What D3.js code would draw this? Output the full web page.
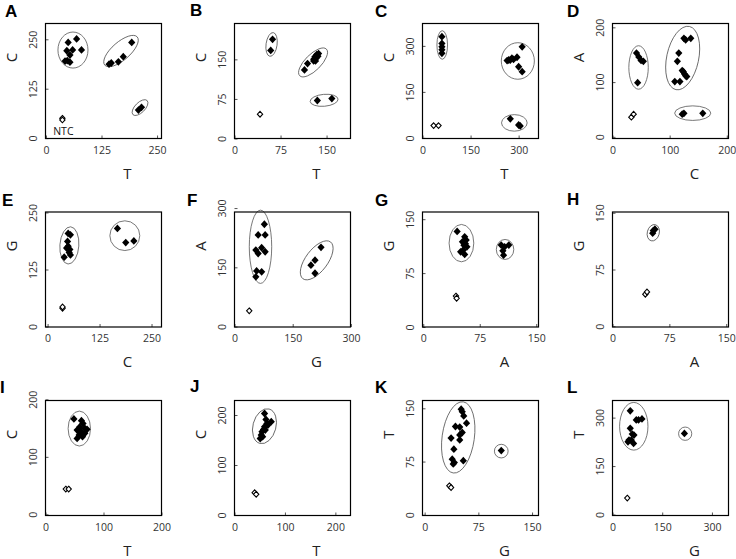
<!DOCTYPE html>
<html><head><meta charset="utf-8">
<script src="https://cdn.jsdelivr.net/npm/d3@7"></script>
<style>body{margin:0;background:#fff}</style>
</head><body><svg id="c" width="736" height="559"></svg>
<script>
// ---------- data ----------
const panelLetters = ["A","B","C","D","E","F","G","H","I","J","K","L"];
const xTitles = ["T","T","T","C","C","G","A","A","T","T","G","G"];
const yTitles = ["C","C","C","A","G","A","G","G","C","C","T","T"];
const xTickValues = [[0,125,250],[0,75,150],[0,150,300],[0,100,200],[0,125,250],[0,150,300],[0,75,150],[0,75,150],[0,100,200],[0,100,200],[0,75,150],[0,150,300]];
const yTickValues = [[0,125,250],[0,75,150],[0,150,300],[0,100,200],[0,125,250],[0,150,300],[0,75,150],[0,75,150],[0,100,200],[0,100,200],[0,75,150],[0,150,300]];
const xDomains = [[-1,260],[0,189],[0,362],[0,203],[-5,274],[0,299],[-1,153],[0,153],[0,200],[0,230],[-3,159],[0,350]];
const yDomains = [[-1,290],[0,218],[-2,373],[-3,207],[-1,251],[-1,290],[0,160],[-1,151],[-2,198],[-1,229],[-1,161],[-3,353]];

const pointsA = [[50,242],[69,251],[47,221],[60,223],[80,223],[54,210],[43,195],[54,192],[48,196],[142,187],[147,190],[163,193],[174,206],[193,242],[208,71],[215,78]];
const pointsB = [[62,188],[59,167],[114,130],[119,142],[129,150],[131,155],[134,159],[137,161],[132,147],[129,147],[133,152],[136,156],[135,72],[158.6,75.6]];
const pointsC = [[60.6,330],[60.6,308],[60.6,297],[60.6,287],[60.6,276],[264,252],[274,254],[284,256],[295,263],[279,260],[269,254],[311,297],[300,232],[311,216],[274,62],[300,42],[305,39]];
const pointsD = [[42,153],[46,146],[50,139.5],[54,138],[44,99],[125,180],[128,177],[137,180],[116,153],[113.5,138],[109,101],[118,101],[124,119],[126,115],[130,110],[128,111.5],[122,121],[122,41.5],[125,43],[158,43]];
const pointsE = [[49.5,204],[55,201],[48,186.5],[49.5,176],[45.7,172],[53.6,169],[52,162],[55,157],[40,152],[168,215],[188,184],[207.5,187.6]];
const pointsF = [[77,259],[61,232],[79,232],[55,193.7],[70,199.5],[79,189.4],[61,185],[57,141],[70,138.5],[55,126],[223,200.5],[207.5,168],[197,155.5],[207.5,135]];
const pointsG = [[45,133],[55,125.5],[57,121],[56,116],[58,111.5],[53,107],[49.6,104.6],[55,101],[54,113.9],[52,118.5],[103.5,114],[108,111.5],[113.6,114],[105.7,106],[106.6,100]];
const pointsH = [[53.8,126.4],[56,128.2],[53,123]];
const pointsI = [[49,166],[62,163],[64.7,158],[59,152],[54.5,146.6],[67.8,149.6],[71.7,147.8],[62,143.7],[58,138],[54.5,132],[63.8,135],[60.3,141],[67.8,141]];
const pointsJ = [[59.6,203],[62.4,191],[72.9,186.6],[64.4,183],[59.6,176.6],[57.6,171],[54.5,166.6],[53,160],[51,153],[55.8,156.6],[61,170],[66.3,180]];
const pointsK = [[51,148.7],[52.5,145.3],[54.6,139.3],[58.5,129],[43,124.4],[49,123.5],[52.5,115.9],[49,112.5],[36.9,108],[49,105.5],[40.8,92.4],[38.5,78.3],[54,76.3],[39.9,71.7],[41.5,73.5],[107,90.4]];
const pointsL = [[53.6,321],[71.7,293],[78.6,293],[88.9,296],[53.6,267],[59.6,249],[64.8,246],[49.7,230.5],[56.6,230.5],[63.6,220],[46.7,225],[217,251]];

const ntcA = [[37,50],[37,46]];
const ntcB = [[41.6,46]];
const ntcC = [[34.7,40],[50,40]];
const ntcD = [[33,36],[37,41.5]];
const ntcE = [[36,40],[36,43]];
const ntcF = [[38,40]];
const ntcG = [[43.4,43],[44.3,40]];
const ntcH = [[43.3,42.3],[45.5,45.3]];
const ntcI = [[35,44],[40,44]];
const ntcJ = [[40,44.6],[43,41.4]];
const ntcK = [[34.5,40.8],[36.9,38.4]];
const ntcL = [[44.6,51]];

// cluster ellipses: [cx, cy, rx (x units), ry (y units), tilt deg]
const ellipsesA = [[60.8,222.8,33.8,45.6,0],[168.9,220.3,48.4,22.8,-41],[211.7,77.2,22.5,12.7,-45]];
const ellipsesB = [[60.4,178.3,9,22.7,8],[128,144.2,30.7,15.1,-45],[146,72.4,22.8,11.3,-5]];
const ellipsesC = [[61.6,303,16.6,46.6,0],[297.5,250.8,51.6,59.6,0],[286.6,48.9,40,27,0]];
const ellipsesD = [[45.6,126.7,17,39.7,0],[122.8,143.9,28,59,12],[140.4,43.3,31.6,13.3,0]];
const ellipsesE = [[52.4,177.8,22.8,40.9,4],[185.8,199.1,36,32.6,0]];
const ellipsesF = [[67,202,28.9,92.7,0],[211.9,167.7,59.3,27.8,-53]];
const ellipsesG = [[50.7,116.7,16.4,26,0],[108.6,107.9,11.6,13.9,0]];
const ellipsesH = [[53.8,123.6,7.9,11,15]];
const ellipsesI = [[58.3,149.2,19.3,30.4,0]];
const ellipsesJ = [[59.4,177.6,22.8,35.6,15]];
const ellipsesK = [[46.9,109,22.5,50.6,8],[107,89.7,9.6,9.6,0]];
const ellipsesL = [[64.2,273.2,42.8,73.8,0],[219.3,250.2,19.9,20.6,0]];

const allPoints = [pointsA,pointsB,pointsC,pointsD,pointsE,pointsF,pointsG,pointsH,pointsI,pointsJ,pointsK,pointsL];
const allNtc = [ntcA,ntcB,ntcC,ntcD,ntcE,ntcF,ntcG,ntcH,ntcI,ntcJ,ntcK,ntcL];
const allEllipses = [ellipsesA,ellipsesB,ellipsesC,ellipsesD,ellipsesE,ellipsesF,ellipsesG,ellipsesH,ellipsesI,ellipsesJ,ellipsesK,ellipsesL];

// ---------- layout ----------
const colLeft = [45.5, 234.5, 422.5, 612.5];
const rowTop = [23.5, 212, 400.5];
const PW = 116, PH = 115;
const letterPos = [[5,17],[190,16],[375,17],[567,17],[2,206],[187,206],[375,206],[567,205],[0,393],[190,392],[375,393],[567,393]];
const FONT = "'Open Sans', 'DejaVu Sans', sans-serif";

const diamond = {
  draw(ctx, size) {
    const r = Math.sqrt(size / 2);
    ctx.moveTo(0, -r * 1.08);
    ctx.lineTo(r, 0);
    ctx.lineTo(0, r * 1.08);
    ctx.lineTo(-r, 0);
    ctx.closePath();
  }
};

const svg = d3.select("#c");

panelLetters.forEach((letter, i) => {
  const c = i % 4, r = Math.floor(i / 4);
  const left = colLeft[c], top = rowTop[r];
  const x = d3.scaleLinear().domain(xDomains[i]).range([0, PW]);
  const y = d3.scaleLinear().domain(yDomains[i]).range([PH, 0]);
  const g = svg.append("g").attr("transform", `translate(${left},${top})`);

  // axes (inward ticks)
  const xa = g.append("g").attr("transform", `translate(0,${PH})`)
    .call(d3.axisBottom(x).tickValues(xTickValues[i]).tickSize(-3).tickPadding(8).tickSizeOuter(0));
  const ya = g.append("g")
    .call(d3.axisLeft(y).tickValues(yTickValues[i]).tickSize(-3).tickSizeOuter(0));
  [xa, ya].forEach(a => {
    a.select(".domain").remove();
    a.attr("font-family", FONT).attr("font-size", 10.5);
    a.selectAll(".tick line").attr("stroke", "#555");
    a.selectAll(".tick text").attr("fill", "#333");
  });
  ya.selectAll(".tick text")
    .attr("x", null).attr("dy", "0.35em")
    .attr("text-anchor", "middle")
    .attr("transform", "translate(-12,0) rotate(-90)");

  // ellipses
  g.selectAll("ellipse.cl").data(allEllipses[i]).join("ellipse")
    .attr("class", "cl")
    .attr("cx", 0).attr("cy", 0)
    .attr("rx", d => Math.abs(x(d[0] + d[2]) - x(d[0])))
    .attr("ry", d => Math.abs(y(d[1] + d[3]) - y(d[1])))
    .attr("transform", d => `translate(${x(d[0])},${y(d[1])}) rotate(${d[4]})`)
    .attr("fill", "none").attr("stroke", "#555").attr("stroke-width", 0.8);

  // filled diamonds (samples)
  g.selectAll("path.pt").data(allPoints[i]).join("path")
    .attr("class", "pt")
    .attr("d", d3.symbol().type(diamond).size(26))
    .attr("transform", d => `translate(${x(d[0])},${y(d[1])})`)
    .attr("fill", "#000");

  // open diamonds (NTC)
  g.selectAll("path.ntc").data(allNtc[i]).join("path")
    .attr("class", "ntc")
    .attr("d", d3.symbol().type(diamond).size(14))
    .attr("transform", d => `translate(${x(d[0])},${y(d[1])})`)
    .attr("fill", "#fff").attr("stroke", "#000").attr("stroke-width", 1.1);

  // box
  g.append("rect").attr("x", 0).attr("y", 0).attr("width", PW).attr("height", PH)
    .attr("fill", "none").attr("stroke", "#000").attr("stroke-width", 1.2);

  // axis titles
  g.append("text").text(xTitles[i])
    .attr("x", 82).attr("y", PH + 35).attr("dy", "0.35em")
    .attr("text-anchor", "middle").attr("font-family", FONT).attr("font-size", 15).attr("fill", "#222");
  g.append("text").text(yTitles[i])
    .attr("transform", `translate(-34,34) rotate(-90)`).attr("dy", "0.35em")
    .attr("text-anchor", "middle").attr("font-family", FONT).attr("font-size", 15).attr("fill", "#222");

  if (letter === "A") {
    g.append("text").text("NTC")
      .attr("x", x(ntcA[0][0]) + 1).attr("y", 111.5)
      .attr("text-anchor", "middle").attr("font-family", FONT).attr("font-size", 10.5).attr("fill", "#111");
  }

  // panel letter
  svg.append("text").text(letter)
    .attr("x", letterPos[i][0]).attr("y", letterPos[i][1])
    .attr("font-family", "'Liberation Sans', Arial, sans-serif").attr("font-weight", "bold")
    .attr("font-size", 17).attr("fill", "#000");
});
</script>
</body></html>
